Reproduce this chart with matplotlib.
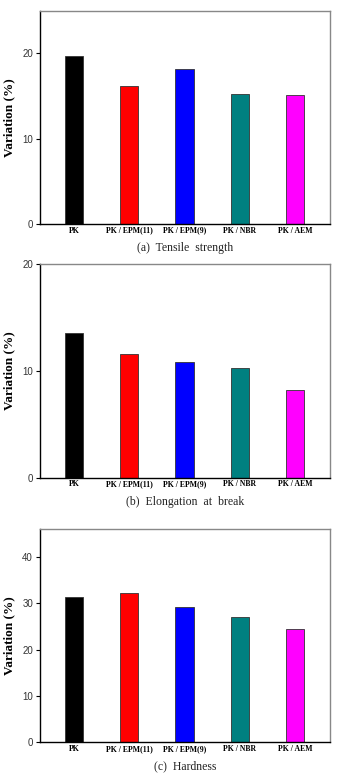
import matplotlib
matplotlib.use("Agg")
import matplotlib.pyplot as plt

categories = ["PK", "PK / EPM(11)", "PK / EPM(9)", "PK / NBR", "PK / AEM"]
tensile = [19.7, 16.2, 18.2, 15.2, 15.1]
elongation = [13.6, 11.57, 10.88, 10.28, 8.19]
hardness = [31.3, 32.1, 29.1, 27.1, 24.4]
colors = ["#000000", "#ff0000", "#0000ff", "#008080", "#ff00ff"]

panels = [
    (tensile, "(a)  Tensile  strength", (0, 25), [0, 10, 20], 0.7102),
    (elongation, "(b)  Elongation  at  break", (0, 20), [0, 10, 20], 0.382),
    (hardness, "(c)  Hardness", (0, 46), [0, 10, 20, 30, 40], 0.0397),
]

fig = plt.figure(figsize=(3.37, 7.73), dpi=100)
for vals, caption, ylim, yticks, bottom in panels:
    ax = fig.add_axes([0.1187, bottom, 0.8605, 0.276])
    x = list(range(len(categories)))
    ax.bar(x, vals, width=0.33, color=colors, edgecolor="#333333", linewidth=0.6)
    ax.set_xlim(-0.615, 4.63)
    ax.set_ylim(*ylim)
    ax.set_yticks(yticks)
    ax.set_xticks(x)
    ax.set_xticklabels(categories, fontfamily="Liberation Serif", fontweight="bold", fontsize=5.6)
    for lab in ax.get_xticklabels():
        lab.set_verticalalignment("baseline")
    for lab in ax.get_yticklabels():
        lab.set_fontfamily("Liberation Sans")
        lab.set_fontsize(7)
        lab.set_color("#333333")
    ax.tick_params(axis="y", direction="out", length=3, width=0.8, pad=2)
    ax.tick_params(axis="x", length=0, pad=6.2)
    for s in ["top", "right"]:
        ax.spines[s].set_color("#888888")
        ax.spines[s].set_linewidth(1.0)
    for s in ["left", "bottom"]:
        ax.spines[s].set_color("#000000")
        ax.spines[s].set_linewidth(1.0)
    ax.set_ylabel("Variation (%)", fontfamily="Liberation Serif", fontweight="bold", fontsize=9.5)
    ax.yaxis.set_label_coords(-0.085, 0.5)
    ax.text(0.5, -0.113, caption, transform=ax.transAxes, ha="center", va="center",
            fontfamily="Liberation Serif", fontsize=8.5, color="#222222")

fig.savefig("out.png", dpi=100)
